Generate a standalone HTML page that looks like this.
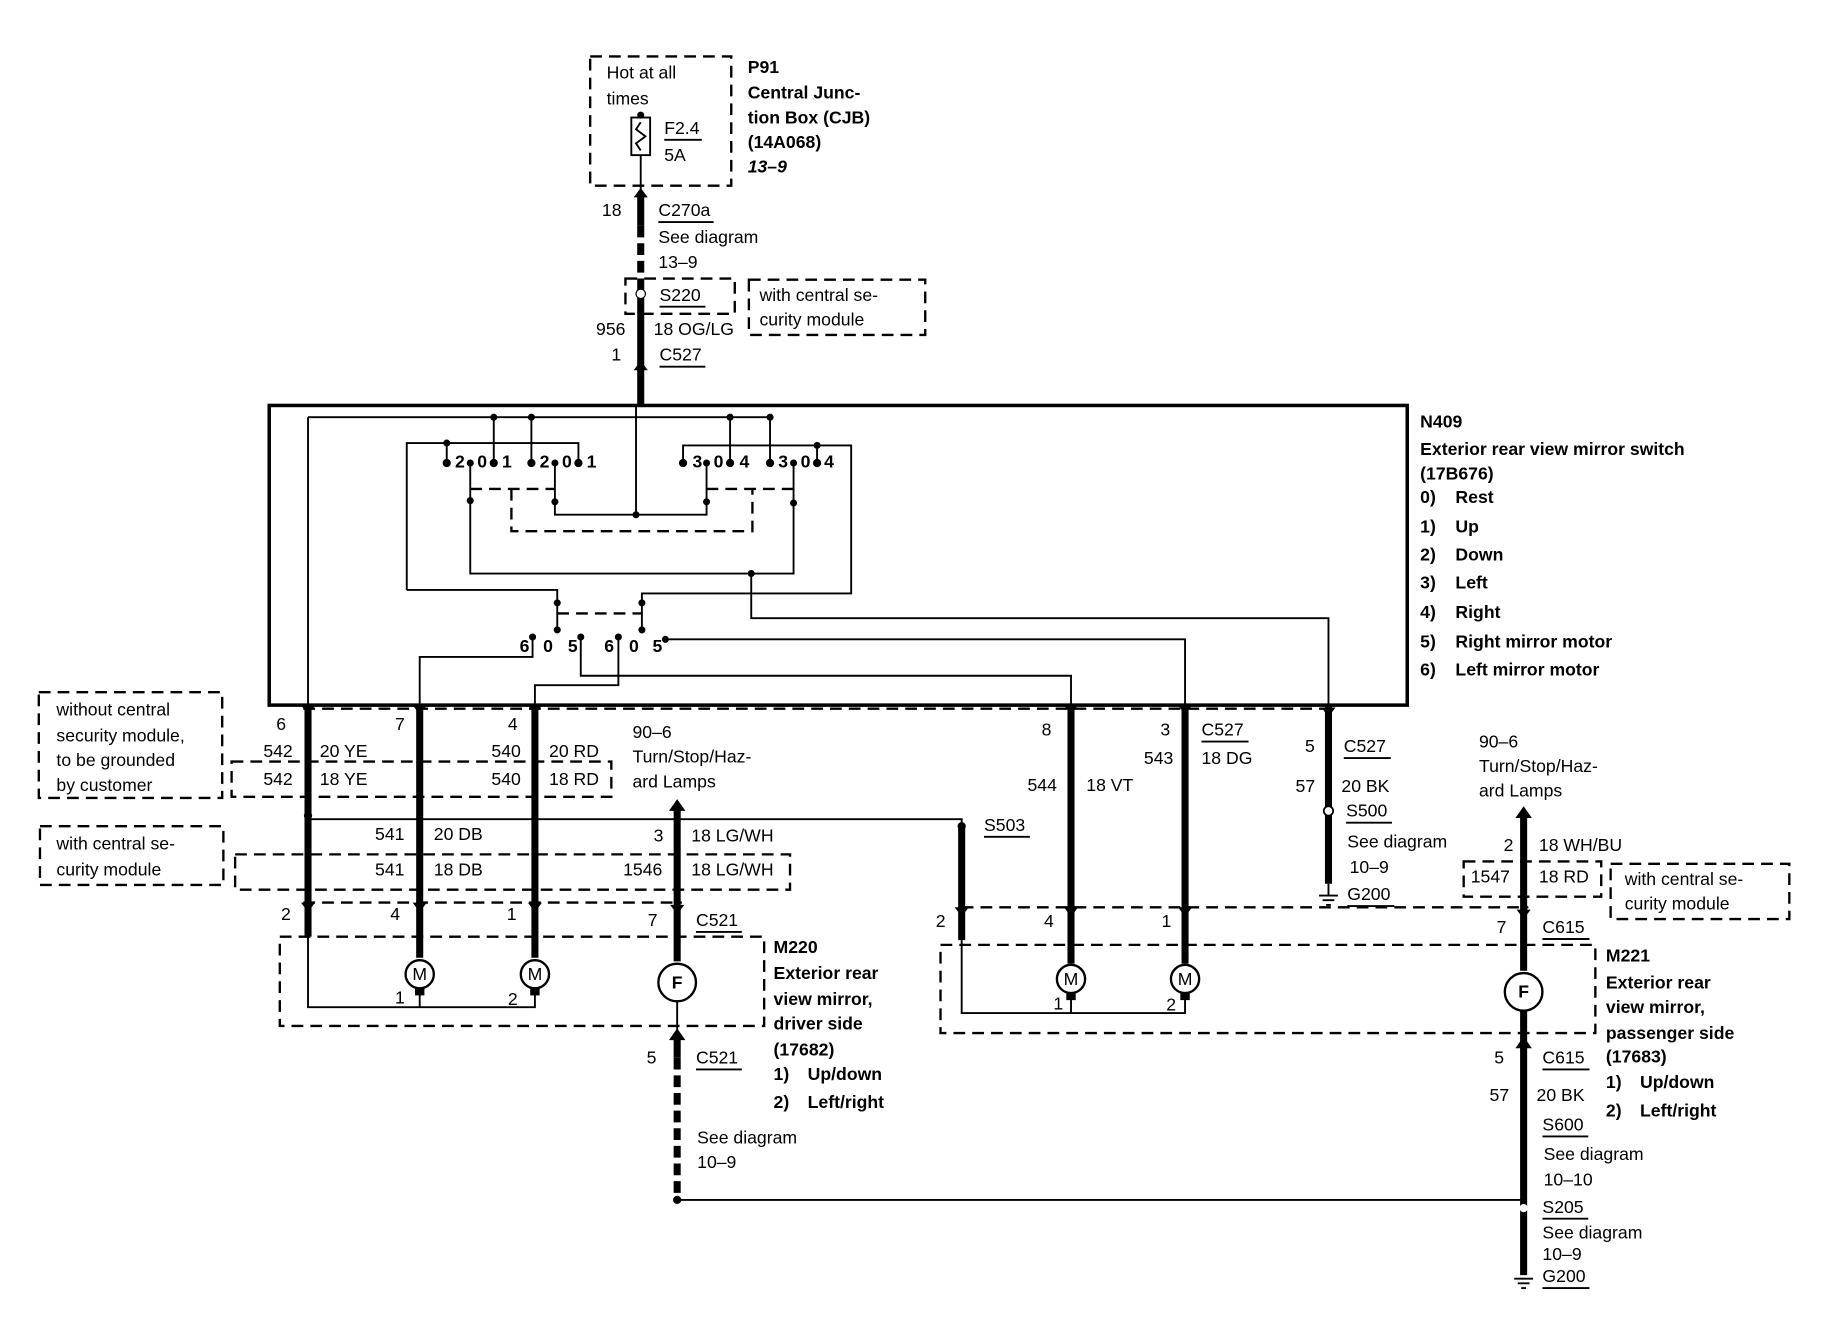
<!DOCTYPE html>
<html><head><meta charset="utf-8"><style>
html,body{margin:0;padding:0;background:#fff;}
svg{display:block;}
text{font-family:"Liberation Sans",Arial,sans-serif;font-size:15px;fill:#000;dominant-baseline:middle;}
.b{font-weight:bold;}
.th{stroke:#000;stroke-width:1.6;fill:none;}
.tk{stroke:#000;stroke-width:6;fill:none;}
.ds{stroke:#000;stroke-width:2;fill:none;stroke-dasharray:10,6;}
.dt{stroke:#000;stroke-width:2;fill:none;stroke-dasharray:12,5;}
</style></head><body>
<svg width="1834" height="1328" viewBox="0 0 1560 1130" preserveAspectRatio="none" xmlns="http://www.w3.org/2000/svg">
<!-- P91 -->
<rect x="502" y="48" width="120" height="110" class="ds"/>
<text x="516" y="63">Hot at all</text><text x="516" y="85">times</text>
<rect x="537" y="100" width="16" height="32" class="th"/>
<path d="M545 96V100 M545 104 l-4 6 l8 6 l-8 6 l4 6 M545 132V165" class="th"/>
<circle cx="545" cy="98" r="3"/>
<text x="565" y="110">F2.4</text><line x1="565" y1="119" x2="597" y2="119" class="th"/>
<text x="565" y="133">5A</text>
<text x="636" y="58" class="b">P91</text><text x="636" y="80" class="b">Central Junc-</text>
<text x="636" y="101" class="b">tion Box (CJB)</text><text x="636" y="122" class="b">(14A068)</text>
<text x="636" y="143" class="b" font-style="italic">13–9</text>
<!-- feed -->
<path d="M545 165V192" class="tk"/><path d="M545 192V237" class="tk" stroke-dasharray="10,5"/>
<path d="M545 237V345" class="tk"/>
<path d="M539 168l6-8l6 8z"/><path d="M539 315l6-8l6 8z"/>
<text x="512" y="180">18</text><text x="560" y="180">C270a</text><line x1="560" y1="189" x2="607" y2="189" class="th"/>
<text x="560" y="203">See diagram</text><text x="560" y="224">13–9</text>
<rect x="532" y="237" width="93" height="30" class="ds"/><circle cx="545" cy="250" r="4" fill="#fff" stroke="#000"/>
<text x="561" y="252">S220</text><line x1="561" y1="261" x2="600" y2="261" class="th"/>
<rect x="637" y="238" width="150" height="47" class="ds"/>
<text x="646" y="252">with central se-</text><text x="646" y="273">curity module</text>
<text x="507" y="281">956</text><text x="556" y="281">18 OG/LG</text>
<text x="520" y="303">1</text><text x="561" y="303">C527</text><line x1="561" y1="312" x2="600" y2="312" class="th"/>
<!-- N409 box -->
<rect x="229" y="345" width="968" height="255" fill="none" stroke="#000" stroke-width="3"/>
<text x="1208" y="360" class="b">N409</text>
<text x="1208" y="383" class="b">Exterior rear view mirror switch</text>
<text x="1208" y="404" class="b">(17B676)</text>
<text x="1208" y="424" class="b">0)</text><text x="1238" y="424" class="b">Rest</text>
<text x="1208" y="449" class="b">1)</text><text x="1238" y="449" class="b">Up</text>
<text x="1208" y="473" class="b">2)</text><text x="1238" y="473" class="b">Down</text>
<text x="1208" y="497" class="b">3)</text><text x="1238" y="497" class="b">Left</text>
<text x="1208" y="522" class="b">4)</text><text x="1238" y="522" class="b">Right</text>
<text x="1208" y="547" class="b">5)</text><text x="1238" y="547" class="b">Right mirror motor</text>
<text x="1208" y="571" class="b">6)</text><text x="1238" y="571" class="b">Left mirror motor</text>
<!-- internal switch wiring -->
<g class="th">
<path d="M262 355H655V394 M420 355V394 M452 355V394 M621 355V394"/>
<path d="M346 502V377H492V394 M380 377V394"/>
<path d="M581 394V379H724V505H546V513 M695 379V394"/>
<path d="M346 502H474V513"/>
<path d="M400 394V488H675V394 M472 394V438H601V394"/>
<path d="M541 345V438"/>
<path d="M639 488V526H1130V600"/>
<path d="M474 513V536 M546 513V536"/>
<path d="M453 542V559H357V600 M494 542V575H911V600 M526 542V583H455V600 M566 544H1008V600"/>
<path d="M262 355V600"/>
</g>
<g class="ds" stroke-dasharray="8,6">
<path d="M400 416H472 M435 416V452H640V416 M601 416H675 M474 522H546"/>
</g>
<g>
<circle cx="420" cy="355" r="3"/><circle cx="452" cy="355" r="3"/><circle cx="621" cy="355" r="3"/><circle cx="655" cy="355" r="3"/>
<circle cx="380" cy="377" r="3"/><circle cx="695" cy="379" r="3"/>
<circle cx="380" cy="394" r="3.5"/><circle cx="400" cy="394" r="3"/><circle cx="420" cy="394" r="3.5"/><circle cx="452" cy="394" r="3.5"/><circle cx="472" cy="394" r="3"/><circle cx="492" cy="394" r="3.5"/>
<circle cx="581" cy="394" r="3.5"/><circle cx="601" cy="394" r="3"/><circle cx="621" cy="394" r="3.5"/><circle cx="655" cy="394" r="3.5"/><circle cx="675" cy="394" r="3"/><circle cx="695" cy="394" r="3.5"/>
<circle cx="400" cy="426" r="3"/><circle cx="472" cy="427" r="3"/><circle cx="601" cy="427" r="3"/><circle cx="675" cy="428" r="3"/>
<circle cx="541" cy="438" r="3"/><circle cx="639" cy="488" r="3"/>
<circle cx="474" cy="513" r="3"/><circle cx="546" cy="513" r="3"/>
<circle cx="453" cy="542" r="3"/><circle cx="474" cy="536" r="3"/><circle cx="494" cy="542" r="3"/><circle cx="526" cy="542" r="3"/><circle cx="546" cy="536" r="3"/><circle cx="566" cy="544" r="3"/>
</g>
<g class="b">
<text x="387" y="394">2</text><text x="406" y="394">0</text><text x="427" y="394">1</text>
<text x="459" y="394">2</text><text x="478" y="394">0</text><text x="499" y="394">1</text>
<text x="589" y="394">3</text><text x="607" y="394">0</text><text x="629" y="394">4</text>
<text x="662" y="394">3</text><text x="681" y="394">0</text><text x="701" y="394">4</text>
<text x="442" y="551">6</text><text x="462" y="551">0</text><text x="483" y="551">5</text>
<text x="514" y="551">6</text><text x="535" y="551">0</text><text x="555" y="551">5</text>
</g>
<!-- connector C527 dashed line -->
<path d="M258 603H1135" class="ds"/>
<!-- left thick wires -->
<path d="M262 600V797 M357 600V815 M455 600V815" class="tk"/>
<path d="M911 600V820 M1008 600V820 M1130 600V752" class="tk"/>
<g>
<path d="M256 600l6 8l6-8z"/><path d="M351 600l6 8l6-8z"/><path d="M449 600l6 8l6-8z"/>
<path d="M905 600l6 8l6-8z"/><path d="M1002 600l6 8l6-8z"/><path d="M1124 602l6 8l6-8z"/>
</g>
<text x="235" y="617">6</text><text x="336" y="617">7</text><text x="432" y="617">4</text>
<text x="886" y="622">8</text><text x="987" y="622">3</text>
<text x="1022" y="622">C527</text><line x1="1022" y1="631" x2="1062" y2="631" class="th"/>
<text x="973" y="646">543</text><text x="1022" y="646">18 DG</text>
<text x="1110" y="636">5</text><text x="1143" y="636">C527</text><line x1="1143" y1="645" x2="1183" y2="645" class="th"/>
<text x="1102" y="670">57</text><text x="1141" y="670">20 BK</text>
<circle cx="1130" cy="690" r="4" fill="#fff" stroke="#000" stroke-width="1.5"/>
<text x="1145" y="691">S500</text><line x1="1145" y1="700" x2="1184" y2="700" class="th"/>
<text x="1146" y="717">See diagram</text><text x="1148" y="739">10–9</text>
<path d="M1130 752V762 M1122 762H1138 M1125 766H1135 M1128 770H1132" class="th" stroke-width="2"/>
<text x="1146" y="762">G200</text><line x1="1146" y1="771" x2="1186" y2="771" class="th"/>
<text x="224" y="640">542</text><text x="272" y="640">20 YE</text><text x="418" y="640">540</text><text x="467" y="640">20 RD</text>
<rect x="197" y="648" width="323" height="30" class="ds"/>
<text x="224" y="664">542</text><text x="272" y="664">18 YE</text><text x="418" y="664">540</text><text x="467" y="664">18 RD</text>
<rect x="33" y="589" width="156" height="90" class="ds"/>
<text x="48" y="605">without central</text><text x="48" y="627">security module,</text>
<text x="48" y="648">to be grounded</text><text x="48" y="669">by customer</text>
<text x="538" y="624">90–6</text><text x="538" y="645">Turn/Stop/Haz-</text><text x="538" y="666">ard Lamps</text>
<text x="874" y="669">544</text><text x="924" y="669">18 VT</text>
<!-- driver turn lamp wire -->
<path d="M576 688V818" class="tk"/><path d="M569 690l7-10l7 10z"/>
<circle cx="576" cy="836" r="16" fill="#fff" stroke="#000" stroke-width="2"/>
<text x="576" y="837" text-anchor="middle" font-size="11" class="b">F</text>
<path d="M576 852V880" class="th" stroke-width="2"/>
<path d="M576 880V900" class="tk"/><path d="M569 885l7-10l7 10z"/>
<path d="M576 900V1020" class="tk" stroke-dasharray="10,5"/>
<circle cx="576" cy="1021" r="3.5"/>
<path d="M576 1021H1296" class="th"/>
<!-- S503 -->
<path d="M262 694V697H818V703" class="th"/><circle cx="262" cy="694" r="3.5"/>
<circle cx="818" cy="703" r="3.5"/>
<path d="M818 703V800" class="tk"/>
<text x="837" y="703">S503</text><line x1="837" y1="712" x2="876" y2="712" class="th"/>
<text x="319" y="711">541</text><text x="369" y="711">20 DB</text><text x="556" y="712">3</text><text x="588" y="712">18 LG/WH</text>
<rect x="200" y="727" width="472" height="30" class="ds"/>
<text x="319" y="741">541</text><text x="369" y="741">18 DB</text><text x="530" y="741">1546</text><text x="588" y="741">18 LG/WH</text>
<rect x="34" y="703" width="156" height="50" class="ds"/>
<text x="48" y="719">with central se-</text><text x="48" y="741">curity module</text>
<!-- C521 -->
<path d="M258 768H580" class="ds"/>
<path d="M256 768l6 8l6-8z"/><path d="M351 768l6 8l6-8z"/><path d="M449 768l6 8l6-8z"/><path d="M570 770l6 8l6-8z"/>
<text x="239" y="779">2</text><text x="332" y="779">4</text><text x="431" y="779">1</text><text x="551" y="784">7</text>
<text x="592" y="784">C521</text><line x1="592" y1="793" x2="631" y2="793" class="th"/>
<rect x="238" y="797" width="412" height="76" class="ds"/>
<path d="M262 797V857H455V843 M357 843V857" class="th"/>
<circle cx="357" cy="829" r="12" fill="#fff" stroke="#000" stroke-width="2"/><text x="357" y="830" text-anchor="middle" font-size="13">M</text>
<circle cx="455" cy="829" r="12" fill="#fff" stroke="#000" stroke-width="2"/><text x="455" y="830" text-anchor="middle" font-size="13">M</text>
<rect x="353" y="841" width="8" height="6"/><rect x="451" y="841" width="8" height="6"/>
<text x="336" y="850">1</text><text x="432" y="851">2</text>
<text x="658" y="807" class="b">M220</text><text x="658" y="829" class="b">Exterior rear</text>
<text x="658" y="851" class="b">view mirror,</text><text x="658" y="872" class="b">driver side</text>
<text x="658" y="894" class="b">(17682)</text>
<text x="658" y="915" class="b">1)</text><text x="687" y="915" class="b">Up/down</text>
<text x="658" y="939" class="b">2)</text><text x="687" y="939" class="b">Left/right</text>
<text x="550" y="901">5</text><text x="592" y="901">C521</text><line x1="592" y1="910" x2="631" y2="910" class="th"/>
<text x="593" y="969">See diagram</text><text x="593" y="990">10–9</text>
<!-- right side -->
<path d="M818 772H1300" class="ds"/>
<path d="M812 772l6 8l6-8z"/><path d="M905 772l6 8l6-8z"/><path d="M1002 772l6 8l6-8z"/>
<text x="796" y="785">2</text><text x="888" y="785">4</text><text x="988" y="785">1</text><text x="1273" y="790">7</text>
<text x="1312" y="790">C615</text><line x1="1312" y1="799" x2="1352" y2="799" class="th"/>
<rect x="800" y="804" width="557" height="75" class="ds"/>
<path d="M818 800V862H1008V847 M911 847V862" class="th"/>
<circle cx="911" cy="833" r="12" fill="#fff" stroke="#000" stroke-width="2"/><text x="911" y="834" text-anchor="middle" font-size="13">M</text>
<circle cx="1008" cy="833" r="12" fill="#fff" stroke="#000" stroke-width="2"/><text x="1008" y="834" text-anchor="middle" font-size="13">M</text>
<rect x="907" y="845" width="8" height="6"/><rect x="1004" y="845" width="8" height="6"/>
<text x="896" y="855">1</text><text x="992" y="856">2</text>
<text x="1258" y="632">90–6</text><text x="1258" y="653">Turn/Stop/Haz-</text><text x="1258" y="674">ard Lamps</text>
<path d="M1296 694V826" class="tk"/><path d="M1289 696l7-10l7 10z"/>
<circle cx="1296" cy="844" r="16" fill="#fff" stroke="#000" stroke-width="2"/>
<text x="1296" y="845" text-anchor="middle" font-size="11" class="b">F</text>
<path d="M1296 860V1085" class="tk"/>
<path d="M1290 774l6 8l6-8z"/><path d="M1289 892l7-10l7 10z"/>
<circle cx="1296" cy="1028" r="3.5" fill="#fff"/>
<path d="M1288 1088H1304 M1291 1092H1301 M1294 1096H1298" class="th" stroke-width="2"/>
<text x="1279" y="720">2</text><text x="1309" y="720">18 WH/BU</text>
<rect x="1245" y="733" width="117" height="30" class="ds"/>
<text x="1251" y="747">1547</text><text x="1309" y="747">18 RD</text>
<rect x="1370" y="735" width="152" height="47" class="ds"/>
<text x="1382" y="749">with central se-</text><text x="1382" y="770">curity module</text>
<text x="1366" y="814" class="b">M221</text><text x="1366" y="837" class="b">Exterior rear</text>
<text x="1366" y="858" class="b">view mirror,</text><text x="1366" y="880" class="b">passenger side</text>
<text x="1366" y="900" class="b">(17683)</text>
<text x="1366" y="922" class="b">1)</text><text x="1395" y="922" class="b">Up/down</text>
<text x="1366" y="946" class="b">2)</text><text x="1395" y="946" class="b">Left/right</text>
<text x="1271" y="901">5</text><text x="1312" y="901">C615</text><line x1="1312" y1="910" x2="1352" y2="910" class="th"/>
<text x="1267" y="933">57</text><text x="1307" y="933">20 BK</text>
<text x="1312" y="958">S600</text><line x1="1312" y1="967" x2="1351" y2="967" class="th"/>
<text x="1313" y="983">See diagram</text><text x="1313" y="1005">10–10</text>
<text x="1312" y="1028">S205</text><line x1="1312" y1="1037" x2="1351" y2="1037" class="th"/>
<text x="1312" y="1050">See diagram</text><text x="1312" y="1068">10–9</text>
<text x="1312" y="1087">G200</text><line x1="1312" y1="1096" x2="1352" y2="1096" class="th"/>
</svg>
</body></html>
